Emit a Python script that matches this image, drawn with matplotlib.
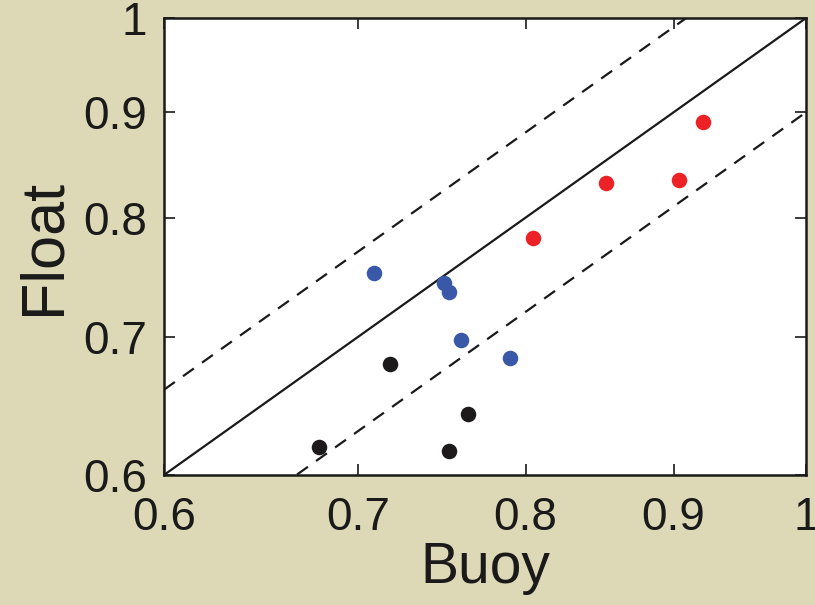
import numpy as np
import matplotlib
matplotlib.use('Agg')
import matplotlib.pyplot as plt
from matplotlib import ticker as mtick

plt.rcParams['font.family'] = ['Liberation Sans', 'DejaVu Sans']

# data (buoy vs float)
blue_buoy = [0.709, 0.750, 0.753, 0.760, 0.790]
blue_float = [0.752, 0.744, 0.736, 0.698, 0.684]
black_buoy = [0.679, 0.718, 0.764, 0.753]
black_float = [0.619, 0.679, 0.642, 0.616]
red_buoy = [0.805, 0.853, 0.904, 0.921]
red_float = [0.782, 0.832, 0.834, 0.890]

ticks = [0.6, 0.7, 0.8, 0.9, 1.0]
tick_labels = ['0.6', '0.7', '0.8', '0.9', '1']
band = 0.1  # +/- 10% dashed lines

bg = '#ddd8b5'
fig = plt.figure(figsize=(8.15, 6.05), dpi=100, facecolor=bg)
ax = fig.add_axes([0.2012, 0.2149, 0.7878, 0.7553])
ax.set_facecolor('white')

xs = np.array([0.6, 1.0])
ax.plot(xs, xs, color='#1a1a1a', lw=1.6)
ax.plot(xs, xs * (1 + band), color='#1a1a1a', lw=1.6, dashes=(6, 4.5))
ax.plot(xs, xs * (1 - band), color='#1a1a1a', lw=1.6, dashes=(6, 4.5))

ms = 125
ax.scatter(blue_buoy, blue_float, s=ms, color='#3a58a8', zorder=3, linewidths=0)
ax.scatter(black_buoy, black_float, s=ms, color='#1c1a1a', zorder=3, linewidths=0)
ax.scatter(red_buoy, red_float, s=ms, color='#ec2226', zorder=3, linewidths=0)

ax.set_xscale('log')
ax.set_yscale('log')
ax.set_xlim(0.6, 1.0)
ax.set_ylim(0.6, 1.0)
for axis in (ax.xaxis, ax.yaxis):
    axis.set_major_locator(mtick.FixedLocator(ticks))
    axis.set_major_formatter(mtick.FixedFormatter(tick_labels))
    axis.set_minor_locator(mtick.NullLocator())

ax.tick_params(direction='in', length=8, width=1.2, top=True, right=True,
               labelsize=33, colors='#1a1a1a')
ax.tick_params(axis='x', pad=15)
ax.tick_params(axis='y', pad=12)
for sp in ax.spines.values():
    sp.set_linewidth(1.8)
    sp.set_color('#1a1a1a')

ax.set_xlabel('Buoy', fontsize=41, color='#1a1a1a', labelpad=1)
ax.set_ylabel('Float', fontsize=44, color='#1a1a1a', labelpad=8)

fig.savefig('out.png', dpi=100, facecolor=bg)
